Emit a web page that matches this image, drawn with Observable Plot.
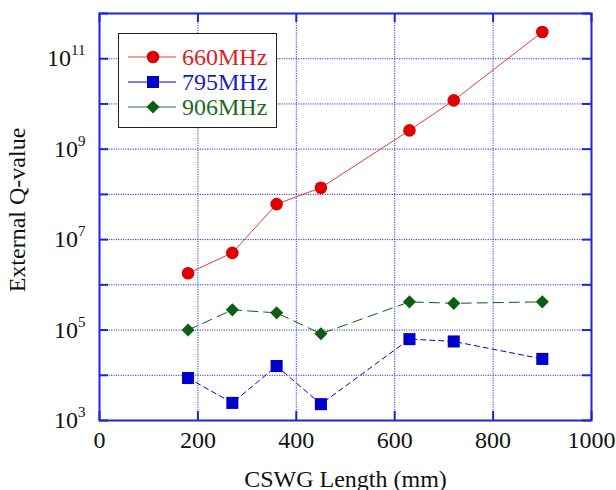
<!DOCTYPE html>
<html><head><meta charset="utf-8">
<script src="https://cdn.jsdelivr.net/npm/d3@7"></script>
<script src="https://cdn.jsdelivr.net/npm/@observablehq/plot@0.6"></script>
<style>
body{margin:0;background:#fff;}
#wrap{position:relative;width:616px;height:490px;}
#legend{position:absolute;left:118px;top:33px;width:157px;height:93px;border:1.5px solid #222;background:#fff;}
</style></head><body><div id="wrap"></div>
<script>
const lengths = [180, 270, 360, 450, 630, 720, 900];
const q660 = [1.8e6, 5.1e6, 6.1e7, 1.4e8, 2.6e9, 1.2e10, 3.9e11];
const q795 = [8.7e3, 2.45e3, 1.6e4, 2.3e3, 6.3e4, 5.6e4, 2.3e4];
const q906 = [1.0e5, 2.8e5, 2.4e5, 8.3e4, 4.2e5, 3.9e5, 4.2e5];
const seriesNames = ["660MHz", "795MHz", "906MHz"];
const xTicks = [0, 200, 400, 600, 800, 1000];
const xGrid = [200, 400, 600, 800];
const yDecades = [1e3, 1e4, 1e5, 1e6, 1e7, 1e8, 1e9, 1e10, 1e11, 1e12];
const yLabelTicks = [1e3, 1e5, 1e7, 1e9, 1e11];

const colors = {pt660: "#e00000", ln660: "#e83a3a", c795: "#0000cc", c906: "#0b5e12"};
const font = '"Liberation Serif", "DejaVu Serif", serif';

const toRows = (vals) => lengths.map((x, i) => ({x, y: vals[i]}));
const r660 = toRows(q660), r795 = toRows(q795), r906 = toRows(q906);

const W = 616, H = 490, mL = 99, mR = 25, mT = 13, mB = 70;
const pw = W - mL - mR, ph = H - mT - mB, tk = 9;
const frameColor = "#2222dd";

const plot = Plot.plot({
  width: W, height: H,
  marginLeft: mL, marginRight: mR, marginTop: mT, marginBottom: mB,
  style: {fontFamily: font, fontSize: "24px", color: "#111", background: "#fff"},
  x: {domain: [0, 1000]},
  y: {type: "log", domain: [1e3, 1e12]},
  marks: [
    Plot.gridY(yDecades, {stroke: "#3333ee", strokeOpacity: 1, strokeWidth: 1, strokeDasharray: "1.2,1.2"}),
    Plot.gridX(xGrid, {stroke: "#3333ee", strokeOpacity: 1, strokeWidth: 1, strokeDasharray: "1.2,1.2"}),
    // inward ticks
    Plot.tickY(yDecades, {y: d => d, insetRight: pw - tk, stroke: frameColor, strokeWidth: 2}),
    Plot.tickY(yDecades, {y: d => d, insetLeft: pw - tk, stroke: frameColor, strokeWidth: 2}),
    Plot.tickX(xTicks, {x: d => d, insetTop: ph - tk, stroke: frameColor, strokeWidth: 2}),
    Plot.tickX(xTicks, {x: d => d, insetBottom: ph - tk, stroke: frameColor, strokeWidth: 2}),
    Plot.frame({stroke: frameColor, strokeWidth: 2}),
    Plot.axisX(xTicks, {tickSize: 0, tickPadding: 10, fontSize: 24, label: "CSWG Length (mm)", labelAnchor: "center", labelArrow: "none", labelOffset: 66, tickFormat: d => String(d)}),
    Plot.axisY(yLabelTicks, {tickSize: 0, tickPadding: 14, fontSize: 24, label: "External Q-value", labelAnchor: "center", labelArrow: "none", labelOffset: 92, tickFormat: d => "10^" + Math.round(Math.log10(d))}),
    Plot.line(r906, {x: "x", y: "y", stroke: colors.c906, strokeWidth: 1, strokeDasharray: "10,6"}),
    Plot.line(r795, {x: "x", y: "y", stroke: colors.c795, strokeWidth: 1, strokeDasharray: "5,4"}),
    Plot.line(r660, {x: "x", y: "y", stroke: colors.ln660, strokeWidth: 1}),
    Plot.dot(r906, {x: "x", y: "y", symbol: "diamond2", r: 5.9, fill: colors.c906, stroke: "none"}),
    Plot.dot(r795, {x: "x", y: "y", symbol: "square", r: 6.8, fill: colors.c795, stroke: "none"}),
    Plot.dot(r660, {x: "x", y: "y", symbol: "circle", r: 6.3, fill: colors.pt660, stroke: "none"})
  ]
});

// superscript exponents on y tick labels
d3.select(plot).selectAll('g[aria-label="y-axis tick label"] text').each(function() {
  const t = d3.select(this);
  const s = t.text();
  if (!s.includes("^")) return;
  const [base, exp] = s.split("^");
  t.text(null);
  t.append("tspan").text(base);
  t.append("tspan").attr("dy", "-11").attr("font-size", "15px").text(exp);
});
// nudge y-axis title up a little to match reference centring
d3.select(plot).selectAll('g[aria-label="y-axis label"]').each(function() {
  const g = d3.select(this);
  const tr = g.attr("transform") || "";
  g.attr("transform", tr + " translate(0,-7)");
});

const wrap = document.getElementById("wrap");
wrap.appendChild(plot);

// legend
const legend = document.createElement("div");
legend.id = "legend";
wrap.appendChild(legend);
const lsvg = d3.select(legend).append("svg").attr("width", 157).attr("height", 93)
  .style("font-family", font).style("font-size", "24px");
const legendItems = [
  {name: seriesNames[0], line: colors.ln660, fill: colors.pt660, sym: d3.symbolCircle, r: 6.3, text: "#e02020"},
  {name: seriesNames[1], line: colors.c795, fill: colors.c795, sym: d3.symbolSquare, r: 6.8, text: "#1a1acc"},
  {name: seriesNames[2], line: "#2a7a2a", fill: colors.c906, sym: d3.symbolDiamond2, r: 5.9, text: "#1f6a1f"}
];
legendItems.forEach((it, i) => {
  const cy = 23 + i * 25;
  lsvg.append("line").attr("x1", 9).attr("x2", 57).attr("y1", cy).attr("y2", cy).attr("stroke", it.line).attr("stroke-width", 1);
  lsvg.append("path").attr("transform", `translate(34,${cy})`).attr("d", d3.symbol(it.sym, it.r * it.r * Math.PI)()).attr("fill", it.fill);
  lsvg.append("text").attr("x", 63).attr("y", cy).attr("dy", "0.35em").attr("fill", it.text).text(it.name);
});
</script></body></html>
